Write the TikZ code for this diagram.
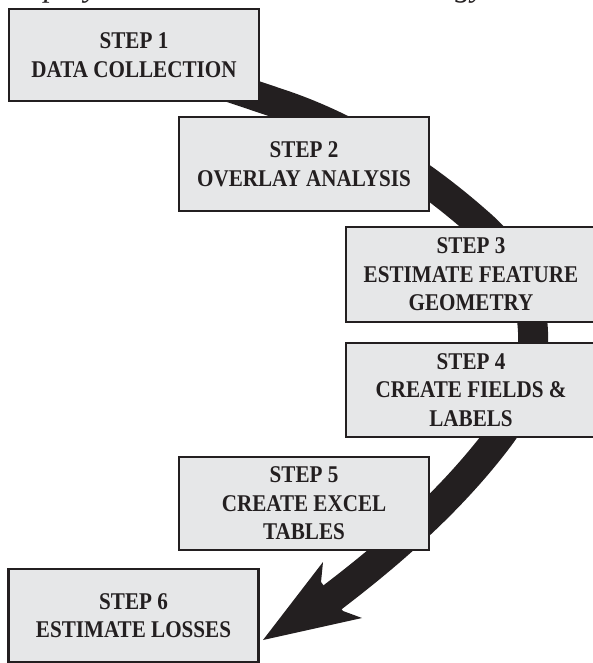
\documentclass[tikz,border=0pt]{standalone}
\usepackage{fontspec}
\setmainfont{Liberation Serif}[FakeStretch=0.88]
\newfontfamily\titlefont{Liberation Serif}
\usetikzlibrary{backgrounds}
\definecolor{ink}{HTML}{231F20}
\definecolor{boxfill}{HTML}{E6E7E8}
\begin{document}
\begin{tikzpicture}[x=1pt,y=-1pt,
  stepbox/.style={draw=ink, fill=boxfill, line width=2.5pt, minimum width=250pt,
    inner sep=0pt, align=center, text=ink,
    font=\fontsize{24}{28.5}\selectfont\bfseries},
  band/.style={line width=30pt, draw=ink, line cap=butt, line join=round},
  headfill/.style={fill=ink},
  titletext/.style={anchor=base west, inner sep=0pt, text=ink,
    font=\titlefont\itshape\fontsize{31.7}{36}\selectfont}
]
\useasboundingbox (0,0) rectangle (592,663);
\begin{scope}
  \clip (0,0) rectangle (592,20);
  \node[titletext] (title) at (0,-3) {Display Loss Estimation Methodology};
\end{scope}

\node[stepbox, minimum height=92pt] (s1) at (134,55) {STEP 1\\DATA COLLECTION};
\node[stepbox, minimum height=94pt] (s2) at (304,164) {STEP 2\\OVERLAY ANALYSIS};
\node[stepbox, minimum height=95pt] (s3) at (471,274.5) {STEP 3\\ESTIMATE FEATURE\\GEOMETRY};
\node[stepbox, minimum height=94pt] (s4) at (471,390) {STEP 4\\CREATE FIELDS \&\\LABELS};
\node[stepbox, minimum height=93pt] (s5) at (304,503.5) {STEP 5\\CREATE EXCEL\\TABLES};
\node[stepbox, minimum height=93pt] (s6) at (133.5,615.5) {STEP 6\\ESTIMATE LOSSES};

\coordinate (notch) at (325,603);
\coordinate (tip) at (263,640);
\coordinate (barbU) at (323,562);
\coordinate (barbL) at (362,618);
\coordinate (cornU) at (321,582);
\coordinate (cornL) at (343,611);

\begin{pgfonlayer}{background}
  \draw[band] (s1.center) -- (280,104)
     .. controls (354.9,129.1) and (424.3,174.2) .. (483,227)
     .. controls (511.8,252.9) and (531.6,293.3) .. (533,332)
     .. controls (534.3,368.8) and (521.2,407.6) .. (499,437)
     .. controls (450.7,501.1) and (389.1,554.7) .. (notch);
  \fill[headfill] (tip) -- (barbU) -- (cornU) -- (cornL) -- (barbL) -- cycle;
\end{pgfonlayer}
\end{tikzpicture}
\end{document}
